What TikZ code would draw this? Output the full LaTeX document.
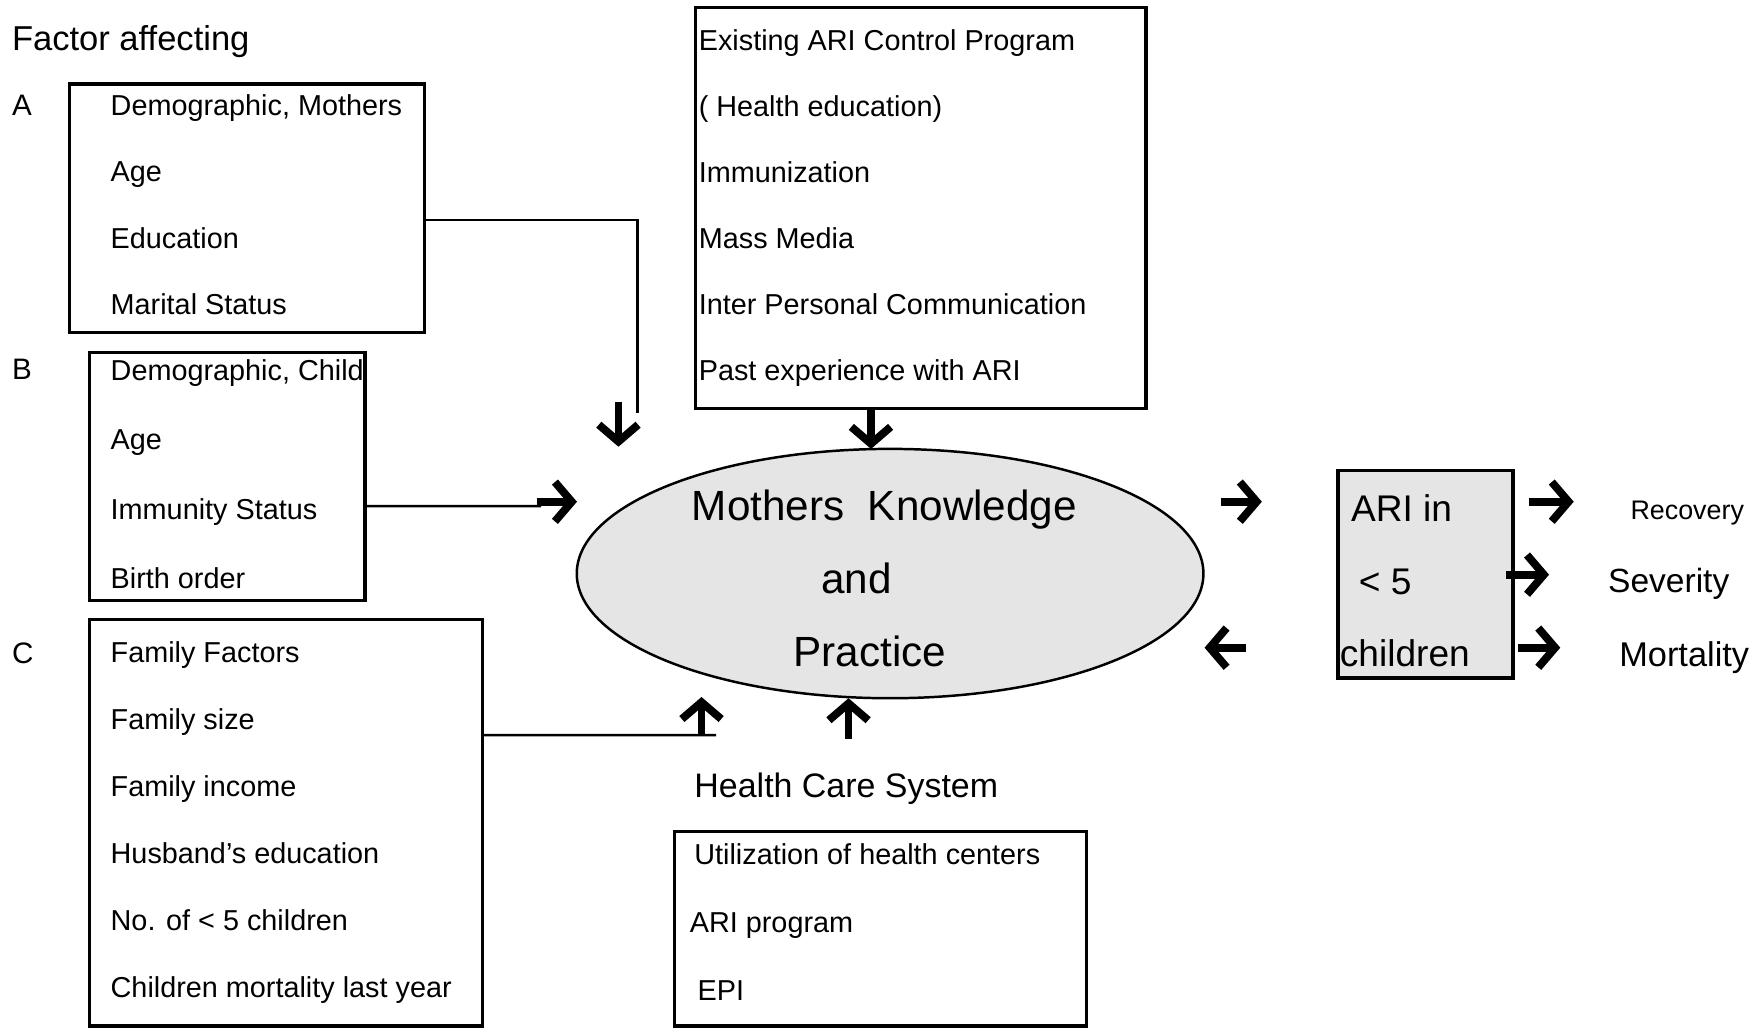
\documentclass[tikz,border=0pt]{standalone}
\usepackage{fontspec}
\setmainfont{Liberation Sans}
\usetikzlibrary{shapes.geometric,arrows.meta,calc,positioning}

\begin{document}
\begin{tikzpicture}[x=0.01cm,y=0.01cm]
	\tikzstyle{frame} = [rectangle, draw=black, line width=0.03cm, inner sep=0pt, outer sep=0pt]
	\tikzstyle{list} = [align=left, inner sep=0pt, font=\fontsize{7.3}{16.8}\selectfont]
	\tikzstyle{oval} = [ellipse, draw=black, line width=0.022cm, fill=black!10, minimum width=5.58cm, minimum height=2.22cm, inner sep=0pt, outer sep=0pt]
	\tikzstyle{lab} = [inner sep=0pt, anchor=west]
	\tikzstyle{link} = [line width=0.022cm]
	\tikzstyle{arr} = [line width=0.07cm,-{Straight Barb[length=0.15cm,width=0.35cm]}]
  \useasboundingbox (0,0) rectangle (1568,-916);

  % headings
  \node(head)[lab, font=\fontsize{8.75}{10}\selectfont] at (10,-37) {Factor affecting};
  \node(labA)[lab, font=\fontsize{7.5}{9}\selectfont] at (10,-94) {A};
  \node(labB)[lab, font=\fontsize{7.5}{9}\selectfont] at (10,-329) {B};
  \node(labC)[lab, font=\fontsize{7.5}{9}\selectfont] at (10,-582) {C};

  % factor boxes
  \node(boxA)[frame, minimum width=3.16cm, minimum height=2.21cm] at (220,-185.5) {};
  \node(listA)[list, right=0.36cm of boxA.west, yshift=0.03cm] {Demographic, Mothers\\Age\\Education\\Marital Status};
  \node(boxB)[frame, minimum width=2.45cm, minimum height=2.21cm] at (202.5,-424.5) {};
  \node(listB)[list, font=\fontsize{7.3}{17.6}\selectfont, right=0.18cm of boxB.west, yshift=0.02cm] {Demographic, Child\\Age\\Immunity Status\\Birth order};
  \node(boxC)[frame, minimum width=3.5cm, minimum height=3.62cm] at (255,-733) {};
  \node(listC)[list, font=\fontsize{7.3}{17}\selectfont, right=0.18cm of boxC.west] {Family Factors\\Family size\\Family income\\Husband’s education\\No. of < 5 children\\Children mortality last year};

  % program and health care boxes
  \node(boxP)[frame, minimum width=4.01cm, minimum height=3.57cm] at (820.5,-185.5) {};
  \node(listP)[list, font=\fontsize{7.3}{16.7}\selectfont, right=0.02cm of boxP.west] {Existing ARI Control Program\\( Health education)\\Immunization\\Mass Media\\Inter Personal Communication\\Past experience with ARI};
  \node(hcs)[lab, font=\fontsize{8.6}{10}\selectfont] at (618,-703) {Health Care System};
  \node(boxH)[frame, minimum width=3.67cm, minimum height=1.73cm] at (784.5,-827.5) {};
  \node(listH)[list, font=\fontsize{7.3}{17.2}\selectfont, right=0.13cm of boxH.west, yshift=0.06cm] {\hspace*{0.04cm}Utilization of health centers\\ARI program\\\hspace*{0.07cm}EPI};

  % centre and outcome
  \node(ell)[oval] at (793,-511) {};
  \node(kp)[align=center, inner sep=0pt, font=\fontsize{10.7}{18.5}\selectfont] at (788,-515) {Mothers\ \ Knowledge\\and\hspace*{0.5cm}\mbox{}\\Practice\hspace*{0.26cm}\mbox{}};
  \node(ari)[frame, fill=black!10, minimum width=1.56cm, minimum height=1.85cm] at (1270,-511.5) {};
  \node(ariT)[lab, align=left, font=\fontsize{9.4}{18.3}\selectfont] at (1193,-517.5) {\hspace*{0.1cm}ARI in\\\hspace*{0.17cm}< 5\\children};
  \node(rec)[lab, font=\fontsize{6.8}{8}\selectfont] at (1452,-457) {Recovery};
  \node(sev)[lab, font=\fontsize{8.5}{10}\selectfont] at (1432,-520) {Severity};
  \node(mor)[lab, font=\fontsize{8.7}{10}\selectfont] at (1442,-586) {Mortality};

  \coordinate (jA) at (568,-368);
  \coordinate (jB) at (482,-451);
  \coordinate (jC) at (638,-655);

  \draw [link] ([yshift=-0.105cm]boxA.east) -| (jA);
  \draw [link] ([yshift=-0.265cm]boxB.east) -- (jB);
  \draw [link] ([yshift=0.78cm]boxC.east) -- (jC);
  \draw [arr] ([shift={(-0.17cm,0.1cm)}]jA) -- ++(0,-0.4cm);
  \draw [arr] ([shift={(-0.04cm,0.04cm)}]jB) -- ++(0.36cm,0);
  \draw [arr] ([xshift=-0.13cm]jC) -- ++(0,0.34cm);
  \draw [arr] ([xshift=-0.445cm]boxP.south) -- ([xshift=-0.17cm]ell.north);
  \draw [arr] ([shift={(-0.37cm,-0.36cm)}]ell.south) -- ++(0,0.36cm);
  \draw [arr] ([shift={(0.16cm,0.64cm)}]ell.east) -- ++(0.36cm,0);
  \draw [arr] ([shift={(0.38cm,-0.66cm)}]ell.east) -- ++(-0.37cm,0);
  \draw [arr] ([shift={(0.14cm,0.645cm)}]ari.east) -- ++(0.4cm,0);
  \draw [arr] ([shift={(-0.06cm,-0.005cm)}]ari.east) -- ++(0.38cm,0);
  \draw [arr] ([shift={(0.04cm,-0.655cm)}]ari.east) -- ++(0.38cm,0);
\end{tikzpicture}
\end{document}
